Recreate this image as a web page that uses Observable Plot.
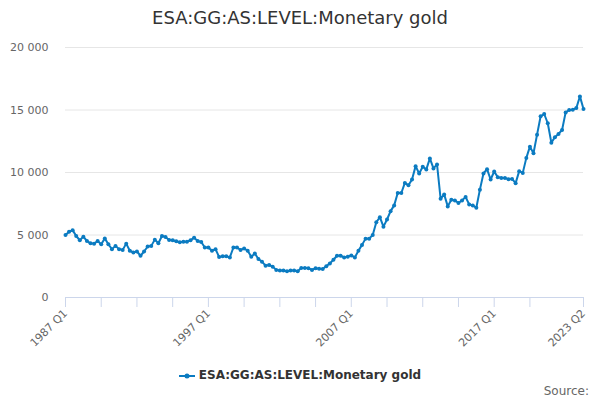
<!DOCTYPE html>
<html>
<head>
<meta charset="utf-8">
<script src="https://cdn.jsdelivr.net/npm/d3@7"></script>
<script src="https://cdn.jsdelivr.net/npm/@observablehq/plot@0.6"></script>
<style>
  html, body { margin: 0; padding: 0; background: #fff; }
  #wrap { position: relative; width: 600px; height: 400px; overflow: hidden; font-family: "DejaVu Sans", sans-serif; }
  #title { position: absolute; top: 7px; left: 0; width: 600px; text-align: center; font-size: 18px; color: #333; }
  #chart { position: absolute; top: 0; left: 0; }
  #legend { position: absolute; top: 368px; left: 0; width: 600px; text-align: center; font-size: 12px; font-weight: bold; color: #333; }
  #legend svg { vertical-align: middle; margin-right: 4px; }
  #source { position: absolute; top: 384px; right: 11px; font-size: 12px; color: #666; }
</style>
</head>
<body>
<div id="wrap">
  <div id="title">ESA:GG:AS:LEVEL:Monetary gold</div>
  <div id="chart"></div>
  <div id="legend"><svg width="16" height="12"><line x1="0" y1="6" x2="16" y2="6" stroke="#0b7bc1" stroke-width="2"></line><circle cx="8" cy="6" r="2.5" fill="#0b7bc1"></circle></svg><span>ESA:GG:AS:LEVEL:Monetary gold</span></div>
  <div id="source">Source:</div>
</div>
<script>
const seriesName = "ESA:GG:AS:LEVEL:Monetary gold";
const startYear = 1987;
const values = [
  5000,5260,5390,4920,4580,4870,4520,4340,4310,4520,4260,4730,4260,3870,4130,3870,3810,4310,3740,3600,3680,3340,3680,4080,
  4130,4630,4340,4920,4840,4600,4580,4500,4420,4470,4470,4580,4790,4520,4440,4000,4000,3740,3870,3240,
  3310,3310,3210,4000,4000,3810,3920,3740,3260,3520,3080,2870,2550,2600,2470,2210,2160,2160,2100,2160,2160,2100,2370,2370,2340,2210,2340,2310,2290,2500,2730,3020,3340,3340,3210,3260,3370,3210,3740,4210,4710,4710,
  5000,6020,6430,5670,6240,6910,7370,8360,8360,9170,8980,9440,10510,9920,10460,10250,11130,10330,10650,7900,8250,7290,7820,7770,7560,7770,8040,7450,7370,7180,8630,9920,10270,9440,
  10080,9630,9570,9570,9470,9490,9150,10110,9970,11170,12070,11540,13030,14500,14680,13940,12390,12820,13090,13400,14810,15000,15030,15160,16090,15080
];
const quarters = values.map((_, i) => `${startYear + Math.floor(i / 4)} Q${(i % 4) + 1}`);
const xTickLabels = ["1987 Q1", "1997 Q1", "2007 Q1", "2017 Q1", "2023 Q2"];
const xTickMarks = ["1987 Q1","1989 Q3","1992 Q1","1994 Q3","1997 Q1","1999 Q3","2002 Q1","2004 Q3","2007 Q1","2009 Q3","2012 Q1","2014 Q3","2017 Q1","2019 Q3","2023 Q2"];
const yTicks = [0, 5000, 10000, 15000, 20000];

const data = values.map((v, i) => ({i, q: quarters[i], v}));
const idx = q => quarters.indexOf(q);
const fmt = d => d3.format(",")(d).replace(/,/g, " ");
const color = "#0b7bc1";

const chart = Plot.plot({
  width: 600,
  height: 360,
  marginTop: 47,
  marginBottom: 63,
  marginLeft: 65,
  marginRight: 17,
  style: {fontFamily: "DejaVu Sans, sans-serif", fontSize: "11px", color: "#666", background: "transparent"},
  x: {domain: [0, values.length - 1], label: null},
  y: {domain: [0, 20000], label: null},
  marks: [
    Plot.gridY(yTicks.filter(d => d > 0), {stroke: "#e6e6e6", strokeOpacity: 1}),
    Plot.axisY(yTicks, {tickSize: 0, tickPadding: 17, tickFormat: fmt, fill: "#666", fontSize: 11, label: null}),
    Plot.ruleY([0], {stroke: "#ccd6eb"}),
    Plot.axisX(xTickMarks.map(idx), {tickSize: 10, stroke: "#ccd6eb", strokeOpacity: 1, tickFormat: () => "", label: null}),
    Plot.axisX(xTickLabels.map(idx), {tickSize: 0, tickPadding: 14, tickRotate: -45, tickFormat: i => quarters[i], fill: "#666", fontSize: 11, label: null}),
    Plot.line(data, {x: "i", y: "v", stroke: color, strokeWidth: 2}),
    Plot.dot(data, {x: "i", y: "v", fill: color, r: 2})
  ]
});
document.getElementById("chart").appendChild(chart);
</script>
</body>
</html>
